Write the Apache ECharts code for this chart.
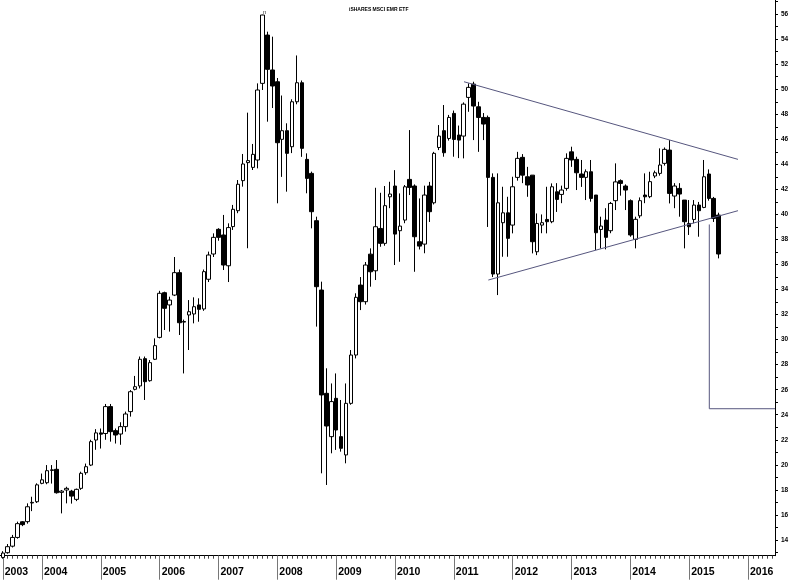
<!DOCTYPE html>
<html>
<head>
<meta charset="utf-8">
<script src="https://cdn.jsdelivr.net/npm/echarts@6/dist/echarts.min.js"></script>
<style>html,body{margin:0;padding:0;background:#fff}#c{width:800px;height:580px}</style>
</head>
<body>
<div id="c"></div>
<script>
// Monthly candles, first = May 2003
const startYear = 2003, startMonth = 5, monthCount = 158;
const opens = [12.6,12.98,13.5,14.2,15.45,15.46,16.95,17.05,18.52,18.57,19.55,19.64,17.8,17.99,17.9,17.24,18.12,19.37,19.98,
21.98,22.55,22.5,24.65,22.73,22.46,23.05,24.25,26.03,26.3,28.48,26.72,
28.43,30.18,33.75,32.77,33.56,35.35,31.4,31.97,32.05,32.77,32.45,34.82,
36.84,38.81,38.36,35.9,39.03,40.3,42.7,44.14,43.76,44.35,50.47,54.33,51.54,
50.6,46.0,46.69,45.41,49.0,50.52,44.4,43.28,39.5,33.96,25.71,22.25,
25.31,22.25,20.79,24.91,28.77,34.36,33.03,36.83,35.5,38.88,37.69,41.41,
42.27,38.7,39.55,42.8,42.27,37.82,37.63,42.27,40.93,45.35,46.69,46.07,
48.07,46.34,46.26,49.35,50.41,48.6,47.75,47.75,42.96,35.24,39.34,40.13,
39.15,42.96,44.56,43.01,43.14,37.02,39.15,39.6,39.42,41.81,41.6,42.08,
45.0,44.4,43.23,42.96,43.41,41.55,38.8,39.55,38.7,41.1,42.7,42.27,
41.1,38.01,39.89,41.55,41.42,43.07,43.28,44.08,45.14,41.47,42.08,41.15,
39.28,39.6,40.75,40.56,43.23,41.28,39.95];
const closes = [12.95,13.46,14.2,15.3,15.22,16.65,17.0,18.4,18.8,19.53,19.6,17.77,17.9,18.12,17.5,18.04,19.32,19.85,21.85,
22.55,22.45,24.65,22.65,22.38,23.05,24.06,25.84,26.24,28.43,26.64,28.16,
29.52,33.7,32.5,33.16,35.35,31.35,31.45,32.23,32.63,32.42,35.43,36.76,
38.17,38.17,35.96,38.95,40.41,42.41,44.03,44.3,44.8,49.94,55.93,51.59,50.26,
45.73,46.69,44.88,49.0,50.52,45.28,42.88,40.22,34.23,25.58,23.1,25.05,
22.78,21.32,24.91,28.77,33.38,33.03,35.96,35.42,39.02,37.69,40.7,41.63,
38.43,39.07,42.21,42.16,38.22,37.47,41.55,40.22,44.88,46.26,44.93,47.75,
45.99,45.94,48.81,50.15,48.66,47.75,47.22,42.96,35.24,40.93,40.13,38.09,
42.21,44.48,43.14,42.35,37.82,39.28,39.34,39.42,42.21,41.2,41.95,44.48,
44.35,43.33,42.96,43.41,41.28,38.54,39.07,38.17,40.88,42.6,42.48,41.95,
38.36,39.61,41.1,41.41,42.62,43.33,43.95,45.2,41.68,42.27,41.63,39.42,
39.02,40.75,40.3,43.01,41.28,39.68,36.84];
const lows = [12.5,12.9,13.4,14.1,15.1,15.3,16.3,16.95,18.45,18.45,18.5,17.7,16.12,16.92,16.9,17.1,18.0,19.2,19.9,
21.2,21.3,22.0,21.85,21.7,21.6,22.65,23.85,25.95,26.1,25.18,26.64,
28.37,30.1,30.77,30.64,33.48,30.37,27.3,29.17,31.3,31.43,32.3,34.6,
36.6,37.9,35.56,34.6,38.76,40.1,42.22,37.3,43.55,43.68,49.94,47.41,48.5,
40.89,43.0,41.82,44.9,48.8,44.6,41.69,38.89,31.04,19.32,18.39,20.92,
21.19,21.05,20.12,24.8,28.5,32.36,32.8,34.23,34.76,37.42,37.5,40.5,
35.96,36.22,39.3,41.55,35.42,37.2,36.9,39.4,40.8,45.14,44.61,45.9,
44.61,44.5,44.48,48.2,45.94,45.0,45.94,39.0,35.0,33.56,36.62,36.62,
38.49,42.7,42.5,41.41,36.89,36.75,38.5,38.49,39.3,40.2,40.9,41.9,
43.8,41.95,42.2,41.15,41.02,37.16,37.29,37.21,38.5,40.35,41.5,40.35,
38.22,37.29,39.7,40.9,41.3,42.9,43.1,43.9,40.88,40.5,39.82,37.29,
38.36,39.3,38.22,40.5,41.1,39.4,36.49];
const highs = [13.1,13.67,14.4,15.46,15.5,16.92,17.45,18.52,19.3,19.98,19.98,20.38,17.99,18.25,18.0,18.1,19.45,20.1,22.0,
22.85,22.9,24.86,24.86,22.9,23.4,24.25,25.97,27.1,28.65,28.65,28.37,
30.1,33.9,33.83,33.43,36.6,35.6,31.6,33.16,33.38,33.3,35.6,37.03,
38.49,38.9,39.96,39.29,40.76,42.75,44.83,48.13,45.63,50.47,55.95,54.6,54.2,
50.9,49.5,47.28,49.2,52.7,50.7,44.88,43.42,39.82,34.63,27.71,26.5,
27.3,25.18,26.5,29.17,33.7,35.0,36.2,37.29,42.13,41.73,42.27,42.61,
43.54,41.68,42.35,46.74,42.4,41.28,42.3,42.6,45.0,47.14,48.74,47.95,
48.3,47.1,48.95,50.47,50.6,49.0,48.1,47.9,43.28,43.28,42.21,41.41,
43.01,45.0,44.82,43.8,43.14,40.08,40.0,42.21,42.48,42.5,42.3,44.88,
45.41,44.61,44.35,43.6,44.35,41.55,39.82,40.5,41.0,44.08,42.8,42.4,
41.2,39.82,41.36,43.28,43.41,43.5,45.28,45.35,45.94,42.5,42.5,41.15,
41.15,41.15,41.0,44.35,43.6,41.4,40.14];
const yLabelValues = [14,16,18,20,22,24,26,28,30,32,34,36,38,40,42,44,46,48,50,52,54,56];
const yTickValues = [13,14,15,16,17,18,19,20,21,22,23,24,25,26,27,28,29,30,31,32,33,34,35,36,37,38,39,40,41,42,43,44,45,46,47,48,49,50,51,52,53,54,55,56,57];
// trend lines: [monthIndexFromJan2003, value]
const upperLine = [[98.07,50.6],[153.95,44.4]];
const lowerLine = [[103.03,34.76],[153.95,40.3]];
const targetLine = [[148.1,39.2],[148.1,24.48],[161.5,24.48]];
const titleText = 'iSHARES MSCI EMR ETF';

const categories = [];
for (let k = 0; k < monthCount; k++) {
  const m = startMonth - 1 + k;
  const y = startYear + Math.floor(m / 12);
  const mm = (m % 12) + 1;
  categories.push(y + '-' + (mm < 10 ? '0' : '') + mm);
}
const candleData = categories.map((c, k) => k < opens.length ? [opens[k], closes[k], lows[k], highs[k]] : '-');
const isYear = (idx) => idx === 0 || categories[idx].endsWith('-01');
const firstIdx = (startYear - 2003) * 12 + startMonth - 1; // 4
const lineColor = '#56567e';

const chart = echarts.init(document.getElementById('c'), null, {renderer: 'canvas'});
chart.setOption({
  animation: false,
  backgroundColor: '#fff',
  title: {
    text: titleText, left: 344, top: 2,
    textStyle: {fontSize: 5, fontWeight: 'bold', fontFamily: 'Liberation Sans', color: '#000'}
  },
  grid: {left: 0.32, right: 25, top: 0, bottom: 24.3, containLabel: false},
  xAxis: [
    {type: 'category', data: categories, boundaryGap: true,
     axisLine: {show: true, lineStyle: {color: '#000', width: 1}},
     axisTick: {show: true, interval: 0, alignWithLabel: true, length: 3, lineStyle: {color: '#444'}},
     axisLabel: {show: false}, splitLine: {show: false}},
    {type: 'category', data: categories, boundaryGap: true, position: 'bottom',
     axisLine: {show: false},
     axisTick: {show: true, interval: (i) => isYear(i), alignWithLabel: true, length: 24, lineStyle: {color: '#777'}},
     axisLabel: {show: true, interval: (i) => isYear(i), formatter: (v) => v.slice(0, 4), align: 'left', margin: 11,
       padding: [0, 0, 0, 2], fontSize: 10.5, fontWeight: 'bold', fontFamily: 'Liberation Sans', color: '#000'},
     splitLine: {show: false}},
    {type: 'value', min: firstIdx - 0.5, max: firstIdx + monthCount - 0.5, show: false}
  ],
  yAxis: {
    type: 'value', position: 'right', min: 12.74, max: 57.13, scale: true,
    axisLine: {show: true, lineStyle: {color: '#000'}},
    axisTick: {show: true, customValues: yTickValues, length: 3, lineStyle: {color: '#000'}},
    axisLabel: {show: true, customValues: yLabelValues, margin: 6, fontSize: 6.5, fontWeight: 'bold',
      fontFamily: 'Liberation Sans', color: '#000'},
    splitLine: {show: false}
  },
  graphic: [{type: 'text', left: 263, top: 9, style: {text: 'n', fontSize: 6, fill: '#333', fontFamily: 'Liberation Sans'}}],
  series: [
    {type: 'candlestick', xAxisIndex: 0, data: candleData, barWidth: 4,
     itemStyle: {color: '#fff', color0: '#000', borderColor: '#000', borderColor0: '#000', borderWidth: 1}},
    {type: 'line', xAxisIndex: 2, data: upperLine, symbol: 'none', lineStyle: {color: lineColor, width: 1}},
    {type: 'line', xAxisIndex: 2, data: lowerLine, symbol: 'none', lineStyle: {color: lineColor, width: 1}},
    {type: 'line', xAxisIndex: 2, data: targetLine, symbol: 'none', lineStyle: {color: lineColor, width: 1}}
  ]
});
</script>
</body>
</html>
